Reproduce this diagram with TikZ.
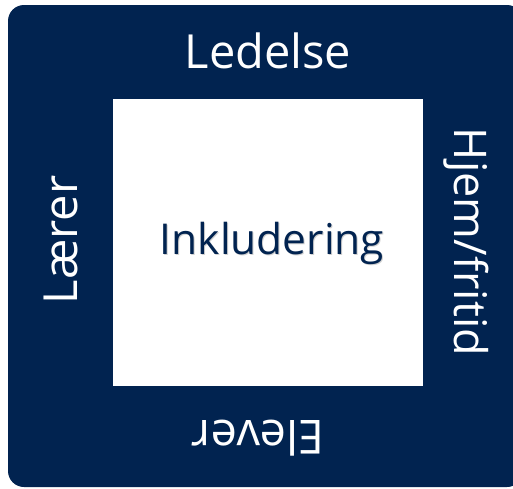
\documentclass[tikz,border=0pt]{standalone}
\usepackage{fontspec}
\setmainfont{Open Sans}
\definecolor{navy}{HTML}{012350}
\begin{document}
\begin{tikzpicture}[x=1pt,y=-1pt]
                \useasboundingbox (0,0) rectangle (513,488);
                \begin{scope}[every node/.style={inner sep=0pt,outer sep=0pt}]
                    \node[fill=navy,rounded corners=16pt,minimum width=515pt,minimum height=482pt] (frame) at (265.5,246) {};
                    \node[fill=white,minimum width=310pt,minimum height=287pt] (centre) at (268,242) {};
                \end{scope}

                \begin{scope}[every node/.style={text=white,font=\fontsize{47}{50}\selectfont}]
                    \node (L) at (268,51) {Ledelse};
                    \node[rotate=90] (R) at (61,240) {Lærer};
                    \node[rotate=-90,font=\fontsize{45}{50}\selectfont] (H) at (466,242) {Hjem/fritid};
                    \node[rotate=180] (E) at (258,438) {Elever};
                \end{scope}

                \node[text=black!18,font=\fontsize{42.5}{46}\selectfont] at (273,244) {Inkludering};
                \node[text=navy,font=\fontsize{42.5}{46}\selectfont] (I) at (272,243) {Inkludering};
            \end{tikzpicture}
\end{document}
